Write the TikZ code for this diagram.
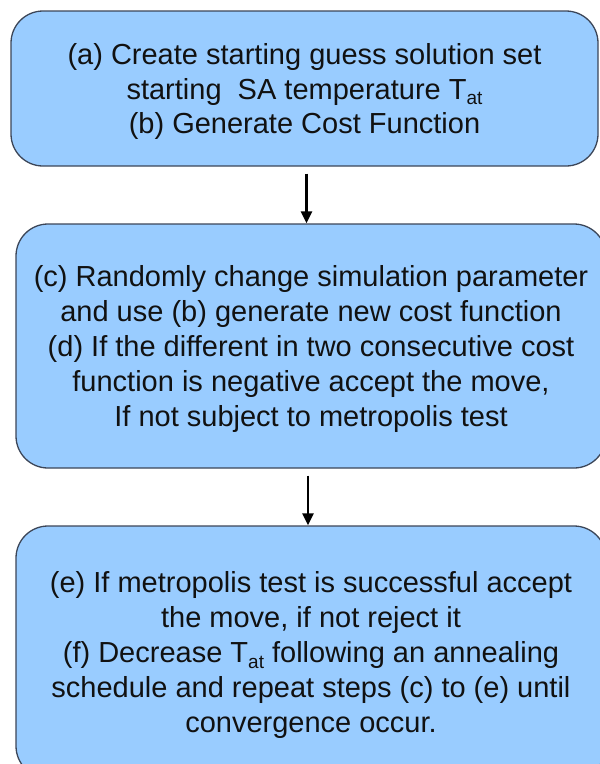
\documentclass[tikz,border=0pt]{standalone}
\usepackage{fontspec}
\setmainfont{Liberation Sans}
\usetikzlibrary{arrows.meta}
\definecolor{boxfill}{HTML}{99CCFF}
\definecolor{boxline}{HTML}{3C4658}
\definecolor{ink}{HTML}{111111}
\newcommand{\Tat}{T\raisebox{-0.38ex}{\fontsize{19}{19}\selectfont at}}
\tikzset{
  stagebox/.style={draw=boxline, line width=1.3pt, fill=boxfill, rounded corners=32pt,
    align=center, text=ink, inner sep=0pt, text depth=-3pt,
    font=\fontsize{29}{34.8}\selectfont},
  flowarrow/.style={line width=2.6pt, -{Triangle[length=12pt,width=11pt]}, draw=black}
}
\begin{document}
\begin{tikzpicture}[x=1pt,y=-1pt]
  \useasboundingbox (0,0) rectangle (600,764);
  \clip (0,0) rectangle (600,764);
  \fill[white] (0,0) rectangle (600,764);

  \node[stagebox, minimum width=587pt, minimum height=155pt] (init) at (304.5,88.5)
    {(a) Create starting guess solution set\\
     starting\ \ SA temperature \Tat\\
     (b) Generate Cost Function};

  \node[stagebox, minimum width=590pt, minimum height=244pt] (move) at (311,346)
    {(c) Randomly change simulation parameter\\
     and use (b) generate new cost function\\
     (d) If the different in two consecutive cost\\
     function is negative accept the move,\\
     If not subject to metropolis test};

  \node[stagebox, minimum width=590pt, minimum height=252pt] (cool) at (311,652)
    {(e) If metropolis test is successful accept\\
     the move, if not reject it\\
     (f) Decrease \Tat{} following an annealing\\
     schedule and repeat steps (c) to (e) until\\
     convergence occur.};

  \coordinate (axisA) at (306.5,0);
  \coordinate (axisB) at (308,0);
  \draw[flowarrow] ([yshift=-7pt]init.south -| axisA) -- (move.north -| axisA);
  \draw[flowarrow] ([yshift=-7pt]move.south -| axisB) -- (cool.north -| axisB);
\end{tikzpicture}
\end{document}
